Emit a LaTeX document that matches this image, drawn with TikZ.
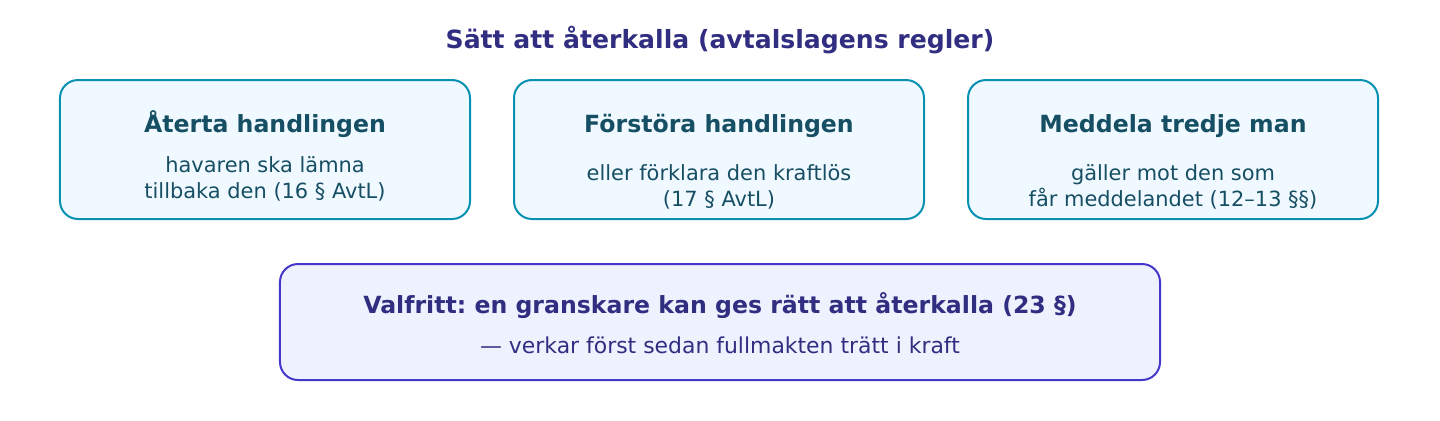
\documentclass[tikz,border=0pt]{standalone}
\usepackage{fontspec}
\setmainfont{DejaVu Sans}
\usetikzlibrary{positioning}
\frenchspacing

\definecolor{cardline}{HTML}{0891B2}
\definecolor{cardfill}{HTML}{F0F9FF}
\definecolor{cardtext}{HTML}{164E63}
\definecolor{optline}{HTML}{4338CA}
\definecolor{optfill}{HTML}{EEF2FF}
\definecolor{opttext}{HTML}{312E81}

\begin{document}
\begin{tikzpicture}[x=1bp,y=-1bp,
                    card/.style={draw=cardline,fill=cardfill,line width=2bp,rounded corners=18bp,
                                 minimum width=410bp,minimum height=139bp,inner sep=0pt},
                    opt/.style={draw=optline,fill=optfill,line width=2bp,rounded corners=18bp,
                                minimum width=880bp,minimum height=116bp,inner sep=0pt},
                    head/.style={anchor=base,inner sep=0pt,font=\fontsize{23.7}{28}\selectfont\bfseries},
                    body/.style={anchor=base,inner sep=0pt,font=\fontsize{21}{25}\selectfont,align=center}]

  \useasboundingbox (0,0) rectangle (1440,420);

  \node[head,text=opttext,font=\fontsize{25.2}{30}\selectfont\bfseries] (title) at (720,48) {Sätt att återkalla (avtalslagens regler)};

  \node[card] (aterta) at (265,149.5) {};
  \node[card] (forstora) at (719,149.5) {};
  \node[card] (meddela) at (1173,149.5) {};
  \node[opt] (valfritt) at (720,322) {};

  \node[head,text=cardtext] (aterta-h) at (265,132) {Återta handlingen};
  \node[body,text=cardtext] (aterta-b1) at (265,172) {havaren ska lämna};
  \node[body,text=cardtext] (aterta-b2) at (265,198) {tillbaka den (16 § AvtL)};

  \node[head,text=cardtext] (forstora-h) at (719,132) {Förstöra handlingen};
  \node[body,text=cardtext] (forstora-b1) at (719,180) {eller förklara den kraftlös};
  \node[body,text=cardtext] (forstora-b2) at (719,206) {(17 § AvtL)};

  \node[head,text=cardtext] (meddela-h) at (1173,132) {Meddela tredje man};
  \node[body,text=cardtext] (meddela-b1) at (1173,180) {gäller mot den som};
  \node[body,text=cardtext] (meddela-b2) at (1173,206) {får meddelandet (12–13 §§)};

  \node[head,text=opttext] (valfritt-h) at (720,313) {Valfritt: en granskare kan ges rätt att återkalla (23 §)};
  \node[body,text=opttext,font=\fontsize{22}{26}\selectfont] (valfritt-b) at (720,353) {— verkar först sedan fullmakten trätt i kraft};
\end{tikzpicture}
\end{document}
